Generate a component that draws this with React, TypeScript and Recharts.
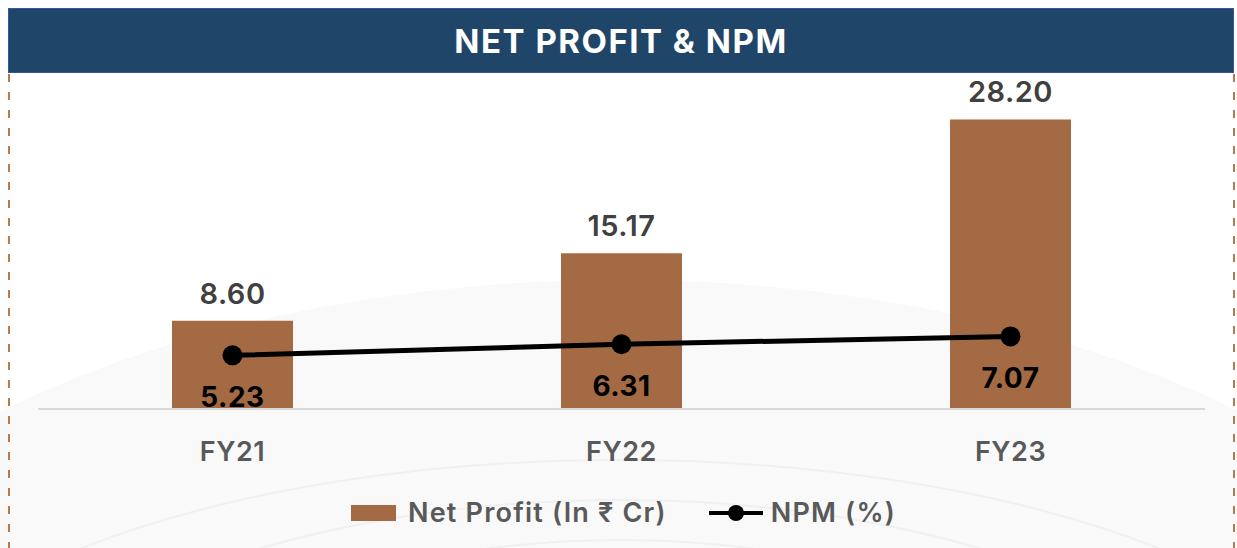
import React from "react";
import { ComposedChart, Bar, Line, XAxis, YAxis, LabelList, Legend } from "recharts";

const years = ["FY21", "FY22", "FY23"];
const netProfit = [8.6, 15.17, 28.2];
const npm = [5.23, 6.31, 7.07];
const title = "NET PROFIT & NPM";

const data = years.map((y, i) => ({ year: y, netProfit: netProfit[i], npm: npm[i] }));

const FONT = "Inter, 'Noto Sans', sans-serif";

function NpmLabel(props: any) {
  const { x, y, value } = props;
  return (
    <text x={x} y={y + 42} textAnchor="middle" dominantBaseline="central" fontSize={28} fontWeight={700} fill="#000" fontFamily={FONT} letterSpacing={0.5}>
      {Number(value).toFixed(2)}
    </text>
  );
}

function LegendBox() {
  return (
    <div style={{ display: "flex", justifyContent: "center", alignItems: "center", fontFamily: FONT, fontSize: 27, fontWeight: 600, color: "#595959", letterSpacing: 1.2, paddingLeft: 10 }}>
      <span style={{ display: "inline-block", width: 45, height: 16, background: "#a36a43", marginRight: 12 }} />
      <span>Net Profit (In ₹ Cr)</span>
      <svg width={54} height={20} style={{ marginLeft: 42, marginRight: 8 }}>
        <line x1={0} y1={10} x2={54} y2={10} stroke="#000" strokeWidth={4} />
        <circle cx={27} cy={10} r={8} fill="#000" />
      </svg>
      <span>NPM (%)</span>
    </div>
  );
}

export default function App() {
  return (
    <div style={{ position: "absolute", left: 0, top: 0, width: 1237, height: 548, background: "#fff", overflow: "hidden" }}>
      {/* faint decorative background */}
      <svg width={1237} height={548} style={{ position: "absolute", left: 0, top: 0 }}>
        <ellipse cx={620} cy={760} rx={900} ry={480} fill="#f9f9f9" />
        <ellipse cx={620} cy={760} rx={760} ry={300} fill="none" stroke="#f0f0f0" strokeWidth={2} />
        <ellipse cx={620} cy={780} rx={640} ry={280} fill="none" stroke="#f0f0f0" strokeWidth={2} />
        <ellipse cx={620} cy={800} rx={520} ry={260} fill="none" stroke="#f0f0f0" strokeWidth={2} />
        <line x1={9} y1={74} x2={9} y2={548} stroke="#b87a4b" strokeWidth={2} strokeDasharray="8 10" />
        <line x1={1234} y1={74} x2={1234} y2={548} stroke="#b87a4b" strokeWidth={2} strokeDasharray="8 10" />
      </svg>
      <div
        style={{
          position: "absolute", left: 8, top: 8, width: 1224, height: 63, background: "#1f4568",
          border: "1px solid #34589a", color: "#fff", fontFamily: FONT, fontWeight: 700, fontSize: 33,
          display: "flex", alignItems: "center", justifyContent: "center", letterSpacing: 1.5,
        }}
      >
        {title}
      </div>
      <div style={{ position: "absolute", left: 0, top: 0 }}>
        <ComposedChart width={1237} height={548} data={data} margin={{ top: 101, right: 32, bottom: 99, left: 38 }} barCategoryGap={134}>
          <XAxis
            dataKey="year"
            axisLine={{ stroke: "#d9d9d9", strokeWidth: 2 }}
            tickLine={false}
            height={40}
            tickMargin={27}
            tick={{ fill: "#595959", fontSize: 27, fontWeight: 600, fontFamily: FONT, letterSpacing: 0.5 }}
          />
          <YAxis hide domain={[0, 30]} />
          <Legend verticalAlign="middle" layout="horizontal" wrapperStyle={{ top: 496, left: 0, width: 1237 }} content={() => <LegendBox />} />
          <Bar dataKey="netProfit" fill="#a36a43" isAnimationActive={false}>
            <LabelList
              dataKey="netProfit"
              position="top"
              offset={17}
              formatter={(v: any) => Number(v).toFixed(2)}
              style={{ fill: "#404040", fontSize: 29, fontWeight: 600, fontFamily: FONT, letterSpacing: 0.5 }}
            />
          </Bar>
          <Line
            dataKey="npm"
            stroke="#000"
            strokeWidth={5}
            dot={{ r: 10, fill: "#000", stroke: "#000", strokeWidth: 0 }}
            isAnimationActive={false}
          >
            <LabelList dataKey="npm" content={NpmLabel} />
          </Line>
        </ComposedChart>
      </div>
    </div>
  );
}
